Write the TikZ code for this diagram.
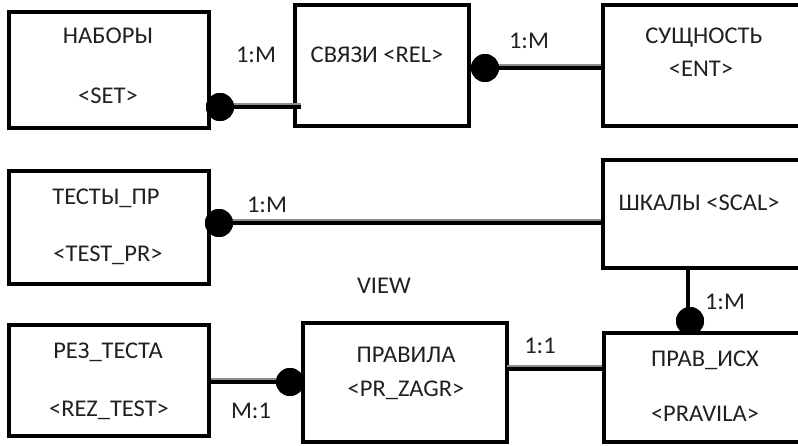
\documentclass[tikz,border=0pt]{standalone}
\usepackage{fontspec}
\setmainfont[FakeStretch=1.02]{Carlito}
\usetikzlibrary{calc}
\definecolor{txt}{HTML}{231F20}
\begin{document}
\begin{tikzpicture}[x=1pt,y=-1pt,
  box/.style={draw=black, line width=4.5pt, inner sep=0pt},
  lbl/.style={font=\fontsize{24}{24}\selectfont, text=txt, inner sep=0pt, anchor=base},
  dot/.style={circle, fill=black, minimum size=28pt, inner sep=0pt},
  link/.style={line width=4.5pt, black},
  shade/.style={line width=3pt, black!45}]
\path[use as bounding box] (0,0) rectangle (798,445);
\clip (0,0) rectangle (798,445);
% boxes
\node[box, minimum width=200pt, minimum height=116pt] (b1) at (109,70) {};
\node[box, minimum width=174pt, minimum height=121pt] (b2) at (382,65.5) {};
\node[box, minimum width=207pt, minimum height=121pt] (b3) at (706.5,65.5) {};
\node[box, minimum width=200pt, minimum height=113pt] (b4) at (109,227.5) {};
\node[box, minimum width=207pt, minimum height=108pt] (b5) at (706.5,214) {};
\node[box, minimum width=200pt, minimum height=111pt] (b6) at (109,380.5) {};
\node[box, minimum width=204pt, minimum height=119pt] (b7) at (405,382.5) {};
\node[box, minimum width=206pt, minimum height=109pt] (b8) at (707,387.5) {};
% texts
\node[lbl] (t1a) at (108,43) {НАБОРЫ};
\node[lbl] (t1b) at (108,103) {<SET>};
\node[lbl] (t2) at (377,62) {СВЯЗИ <REL>};
\node[lbl] (t3a) at (704,43) {СУЩНОСТЬ};
\node[lbl] (t3b) at (701,76) {<ENT>};
\node[lbl] (t4a) at (106,204) {ТЕСТЫ\_ПР};
\node[lbl] (t4b) at (108,261) {<TEST\_PR>};
\node[lbl] (t5) at (699,210) {ШКАЛЫ <SCAL>};
\node[lbl] (t6a) at (108,358) {РЕЗ\_ТЕСТА};
\node[lbl] (t6b) at (109,416) {<REZ\_TEST>};
\node[lbl] (t7a) at (406,362) {ПРАВИЛА};
\node[lbl] (t7b) at (406,396) {<PR\_ZAGR>};
\node[lbl] (t8a) at (705,366) {ПРАВ\_ИСХ};
\node[lbl] (t8b) at (705,421) {<PRAVILA>};
\node[lbl] (view) at (384,293) {VIEW};
% cardinality labels
\node[lbl] (m1) at (256,62) {1:M};
\node[lbl] (m2) at (529,48) {1:M};
\node[lbl] (m3) at (267,212) {1:M};
\node[lbl] (m4) at (725,309) {1:M};
\node[lbl] (m5) at (251,418) {M:1};
\node[lbl] (m6) at (540,353) {1:1};
% connector dots
\node[dot] (d1) at (220,107) {};
\node[dot] (d2) at (485,68) {};
\node[dot] (d3) at (219,223) {};
\node[dot] (d4) at (290,382) {};
\node[dot] (d6) at (690,321) {};
\coordinate (c5) at (507,369);
% shadows
\draw[shade] ([yshift=3pt]d1.center) -- ([yshift=3pt]d1.center -| b2.west) -- ++(8,0);
\draw[shade] ([yshift=3pt]d2.center) -- ([yshift=3pt]d2.center -| b3.west);
\draw[shade] ([yshift=3pt]d3.center) -- ([yshift=3pt]d3.center -| b5.west);
\draw[shade] ([yshift=3pt]d4.center) -- ([yshift=3pt]d4.center -| b6.east);
\draw[shade] ([yshift=3pt]c5) -- ([yshift=3pt]c5 -| b8.west);
% connectors
\draw[link] (d1.center) -- (d1.center -| b2.west) -- ++(8,0);
\draw[link] (d2.center) -- (d2.center -| b3.west);
\draw[link] (d3.center) -- (d3.center -| b5.west);
\draw[link] (d4.center) -- (d4.center -| b6.east);
\draw[link] (c5) -- (c5 -| b8.west);
\draw[link] ([xshift=-2pt]d6.center) -- ([xshift=-2pt]d6.center |- b5.south);
% redraw dots on top
\node[dot] at (d1) {};
\node[dot] at (d2) {};
\node[dot] at (d3) {};
\node[dot] at (d4) {};
\node[dot] at (d6) {};
\end{tikzpicture}
\end{document}
